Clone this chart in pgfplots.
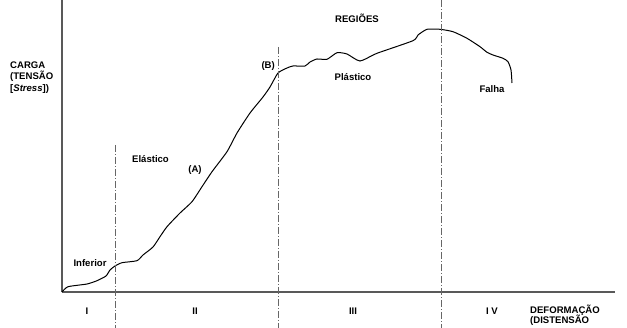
\documentclass[border=0pt]{standalone}
\usepackage{pgfplots}
\pgfplotsset{compat=1.18}
\usepackage{fontspec}
\setmainfont{Liberation Sans}
\begin{document}
\begin{tikzpicture}
\useasboundingbox (-62bp,-36bp) rectangle (565bp,292bp);
\begin{axis}[
  scale only axis, width=553bp, height=292bp,
  xmin=0, xmax=553, ymin=0, ymax=292,
  axis x line=bottom, axis y line=left,
  axis line style={draw=black!65, line width=1.4bp, -},
  xtick=\empty, ytick=\empty,
  clip=false,
]
\addplot[black, line width=1bp, smooth, tension=0.35] coordinates {
(0,0) (6,5.3) (25,8) (35,11.3) (44,16) (48,22) (53,26) (60,29.3) (75,31.3)
(81,37) (91,45) (98,55.3) (105,65.3) (118,79) (130,90.3) (140,105.3) (150,120.3)
(165,140.3) (175,159) (188,179) (201,195) (208,205) (216,219) (225,224) (231,226)
(243,226) (248,230) (255,233) (265,232.7) (275,239.3) (285,238) (298,231) (315,238.7)
(351,251.3) (356,257) (365,262.7) (378,262.7) (391,260.3) (405,253.7) (418,245.3)
(425,239.7) (431,237) (441,233.7) (446,230.3) (449,222) (450,209)
};
\addplot[black!60, line width=0.8bp, dash pattern=on 7bp off 2bp on 1bp off 2bp] coordinates {(53,147) (53,-36)};
\addplot[black!60, line width=0.8bp, dash pattern=on 7bp off 2bp on 1bp off 2bp] coordinates {(216,245) (216,-36)};
\addplot[black!60, line width=0.8bp, dash pattern=on 7bp off 2bp on 1bp off 2bp] coordinates {(379,292) (379,-36)};
\end{axis}
\begin{scope}[every node/.style={inner sep=0pt, font=\fontsize{9.6}{11}\selectfont\bfseries}]
\node[anchor=base west] at (-52bp,223.5bp) {CARGA};
\node[anchor=base west] at (-52bp,212bp) {(TENSÃO};
\node[anchor=base west] at (-52bp,200bp) {[\textit{Stress}])};
\node[anchor=base] at (295bp,269.5bp) {REGIÕES};
\node[anchor=base] at (291bp,211.5bp) {Plástico};
\node[anchor=base] at (430bp,199.3bp) {Falha};
\node[anchor=base east] at (213bp,223bp) {(B)};
\node[anchor=base] at (88.5bp,129.5bp) {Elástico};
\node[anchor=base] at (133bp,119bp) {(A)};
\node[anchor=base] at (28bp,25.5bp) {Inferior};
\node[anchor=base] at (25bp,-22.3bp) {I};
\node[anchor=base] at (133bp,-22.3bp) {II};
\node[anchor=base] at (291bp,-22.3bp) {III};
\node[anchor=base] at (430bp,-22.3bp) {I V};
\node[anchor=base west] at (468bp,-21bp) {DEFORMAÇÃO};
\node[anchor=base west] at (468bp,-31.5bp) {(DISTENSÃO};
\end{scope}
\end{tikzpicture}
\end{document}
